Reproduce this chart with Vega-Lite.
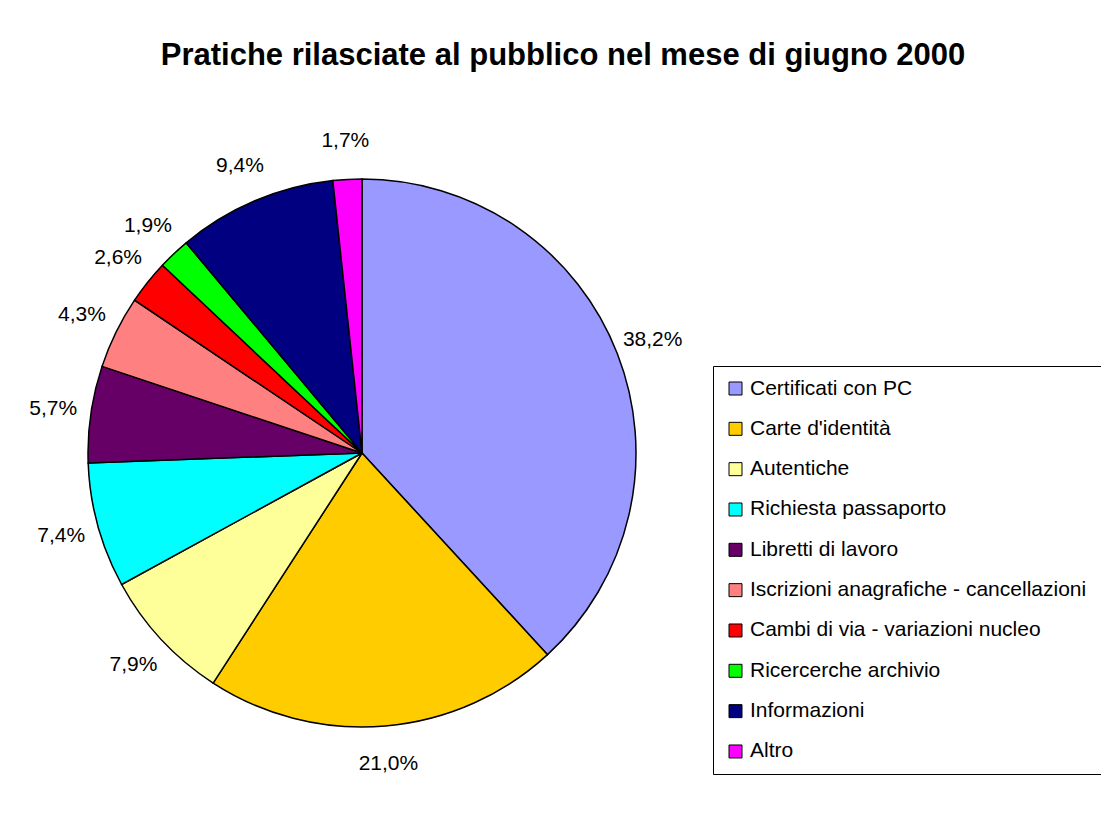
{
  "$schema": "https://vega.github.io/schema/vega-lite/v6.json",
  "autosize": {"type": "none"},
  "width": 548,
  "height": 548,
  "padding": {"left": 88, "top": 179, "right": 465, "bottom": 101},
  "background": "white",
  "title": {
    "text": "Pratiche rilasciate al pubblico nel mese di giugno 2000",
    "font": "Liberation Sans",
    "fontSize": 31,
    "fontWeight": "bold",
    "color": "black",
    "anchor": "middle",
    "frame": "group",
    "dx": 201,
    "offset": 58
  },
  "config": {
    "view": {"stroke": null},
    "locale": {"number": {"decimal": ",", "thousands": ".", "grouping": [3], "currency": ["€", ""]}},
    "legend": {
      "orient": "none",
      "legendX": 625,
      "legendY": 187,
      "title": null,
      "padding": 12,
      "strokeColor": "black",
      "fillColor": "white",
      "labelFont": "Liberation Sans",
      "labelFontSize": 21,
      "labelColor": "black",
      "labelLimit": 800,
      "symbolType": "square",
      "symbolSize": 169,
      "symbolStrokeColor": "black",
      "symbolStrokeWidth": 1,
      "symbolOpacity": 1,
      "rowPadding": 18.33,
      "labelOffset": 4
    }
  },
  "data": {
    "values": [
      {"n": 1, "voce": "Certificati con PC", "quota": 0.382},
      {"n": 2, "voce": "Carte d'identità", "quota": 0.210},
      {"n": 3, "voce": "Autentiche", "quota": 0.079},
      {"n": 4, "voce": "Richiesta passaporto", "quota": 0.074},
      {"n": 5, "voce": "Libretti di lavoro", "quota": 0.057},
      {"n": 6, "voce": "Iscrizioni anagrafiche  - cancellazioni", "quota": 0.043},
      {"n": 7, "voce": "Cambi di via - variazioni nucleo", "quota": 0.026},
      {"n": 8, "voce": "Ricercerche archivio", "quota": 0.019},
      {"n": 9, "voce": "Informazioni", "quota": 0.094},
      {"n": 10, "voce": "Altro", "quota": 0.017}
    ]
  },
  "encoding": {
    "theta": {"field": "quota", "type": "quantitative", "stack": true},
    "order": {"field": "n", "type": "quantitative"}
  },
  "layer": [
    {
      "mark": {"type": "arc", "stroke": "black", "strokeWidth": 1.5, "outerRadius": 274},
      "encoding": {
        "color": {
          "field": "voce",
          "type": "nominal",
          "scale": {
            "domain": ["Certificati con PC", "Carte d'identità", "Autentiche", "Richiesta passaporto", "Libretti di lavoro", "Iscrizioni anagrafiche  - cancellazioni", "Cambi di via - variazioni nucleo", "Ricercerche archivio", "Informazioni", "Altro"],
            "range": ["#9999FF", "#FFCC00", "#FFFF99", "#00FFFF", "#660066", "#FF8080", "#FF0000", "#00FF00", "#000080", "#FF00FF"]
          }
        }
      }
    },
    {
      "mark": {"type": "text", "radius": 312, "font": "Liberation Sans", "fontSize": 21, "color": "black", "align": "center", "baseline": "middle"},
      "encoding": {"text": {"field": "quota", "type": "quantitative", "format": ".1%"}}
    }
  ]
}
